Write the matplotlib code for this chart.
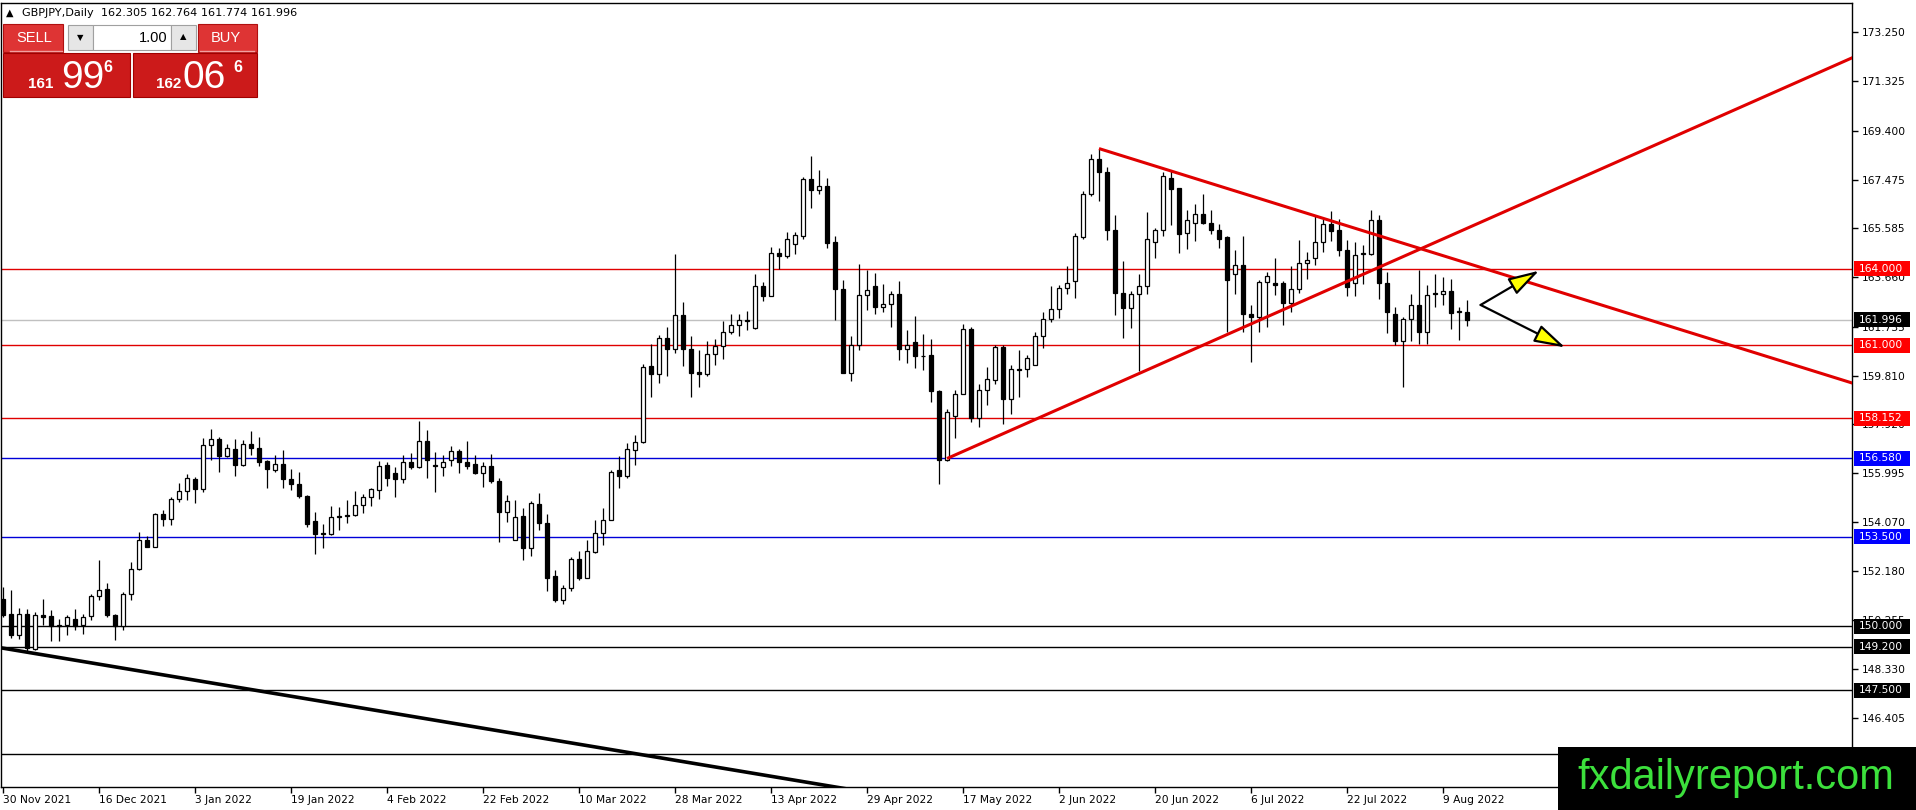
import numpy as np
import matplotlib
matplotlib.use("Agg")
import matplotlib.pyplot as plt
from matplotlib.patches import Rectangle
import matplotlib.transforms as mtransforms

W, H = 1916, 810

# ---------------- data (GBPJPY daily) ----------------
opens = [151.09,150.48,149.68,150.50,149.11,150.46,150.40,150.02,150.05,150.31,
         150.05,150.40,151.21,151.45,150.44,150.01,151.28,152.26,153.37,153.11,
         154.39,154.22,154.99,155.29,155.76,155.39,157.11,157.35,156.68,156.96,
         156.33,157.15,157.00,156.46,156.11,156.37,155.78,155.59,155.12,154.12,
         153.67,153.63,154.30,154.34,154.38,154.74,155.07,155.33,156.31,156.02,
         155.75,156.45,156.24,157.27,156.27,156.24,156.50,156.87,156.45,156.35,
         156.01,156.27,155.71,154.49,153.40,154.31,153.07,154.81,154.06,151.99,
         151.05,151.52,152.62,151.91,152.92,153.67,154.18,156.11,155.89,156.89,
         157.22,160.18,159.89,161.30,160.87,162.18,160.87,159.95,159.87,160.65,
         160.98,161.52,161.78,161.97,161.68,163.31,162.95,164.63,164.50,164.98,
         165.28,167.52,167.09,167.22,165.05,163.22,159.93,161.03,162.96,163.31,
         162.50,162.63,163.00,160.87,161.12,160.60,160.61,159.23,156.50,158.24,
         159.11,161.62,158.17,159.27,159.63,160.95,158.91,160.09,160.06,160.25,
         161.37,162.05,162.44,163.26,163.52,165.24,166.94,168.31,167.80,165.50,
         163.06,162.48,163.02,163.34,165.05,165.50,167.56,167.14,165.40,165.80,
         166.12,165.80,165.53,165.22,163.81,164.16,162.22,162.09,163.48,163.42,
         163.42,162.67,163.22,164.22,164.43,165.05,165.74,165.50,164.72,163.42,
         164.56,164.59,165.92,163.42,162.22,161.17,162.05,162.57,161.52,163.06,
         162.99,163.12,162.29,162.305]
highs = [151.55,151.42,150.74,150.70,150.55,151.09,150.66,150.31,150.46,150.70,
         150.50,151.28,152.59,151.70,150.50,151.35,152.52,153.69,153.53,154.44,
         154.55,155.07,155.62,155.98,155.85,157.39,157.74,157.42,157.15,157.35,
         157.28,157.65,157.42,156.50,156.70,156.89,156.18,156.05,155.13,154.48,
         154.00,154.70,154.68,154.94,155.30,155.20,155.42,156.46,156.44,156.24,
         156.70,156.79,158.03,157.68,156.83,156.70,157.08,156.96,157.25,156.70,
         156.44,156.74,155.79,155.13,154.94,154.65,154.90,155.22,154.41,152.20,
         151.61,152.72,152.95,153.37,154.15,154.65,156.11,156.66,157.18,157.48,
         160.28,161.07,161.42,161.72,164.59,162.70,161.35,160.83,161.16,161.26,
         161.94,162.24,162.22,162.33,163.81,163.48,164.85,164.82,165.44,165.44,
         167.59,168.40,167.88,167.56,165.28,163.57,161.35,164.20,163.96,163.83,
         163.39,163.13,163.52,161.59,162.14,161.43,161.26,159.24,158.49,159.27,
         161.82,161.72,159.48,160.15,161.00,161.00,160.22,160.81,160.61,161.52,
         162.30,163.31,163.35,164.09,165.40,167.04,168.50,168.70,167.98,166.09,
         164.29,163.13,163.78,166.22,165.59,167.78,167.81,167.17,166.28,166.52,
         166.91,166.31,165.76,165.27,164.72,165.27,162.57,163.55,163.87,164.43,
         163.52,164.09,165.14,164.65,166.05,165.96,166.26,165.96,165.11,165.05,
         164.94,166.31,166.09,163.87,162.50,162.11,163.02,163.94,163.35,163.81,
         163.68,163.61,162.50,162.764]
lows = [150.37,149.56,149.52,149.04,149.07,150.05,149.43,149.43,149.65,149.85,
        149.72,150.24,151.05,150.37,149.48,149.85,151.05,152.22,153.09,153.09,
        153.92,153.98,154.87,154.94,154.83,155.26,156.53,156.05,156.63,155.88,
        156.29,156.70,156.28,155.42,156.05,155.42,155.35,155.04,153.89,152.82,
        153.07,153.57,153.76,154.05,154.31,154.42,154.70,154.99,155.50,155.07,
        155.62,156.18,156.21,155.82,155.26,155.89,156.28,156.02,156.18,155.96,
        155.46,155.62,153.31,154.09,153.37,152.61,152.75,153.79,151.39,150.96,
        150.89,151.39,151.83,151.90,152.88,153.18,154.15,155.42,155.81,156.33,
        157.18,158.98,159.53,159.79,160.70,160.19,158.98,159.37,159.80,160.22,
        160.48,161.43,161.37,161.61,161.62,162.74,162.92,164.00,164.42,164.59,
        165.18,166.38,166.94,164.79,161.98,159.90,159.61,160.83,162.37,162.24,
        162.31,161.72,160.44,160.31,160.13,160.02,158.78,155.56,156.48,157.39,
        159.08,158.00,157.81,158.66,159.50,157.94,158.33,158.98,159.76,160.22,
        160.91,161.92,162.07,163.02,162.85,165.18,166.85,166.65,165.14,162.20,
        161.30,161.69,160.00,163.02,164.42,165.27,165.70,164.62,164.76,165.09,
        165.76,165.35,164.79,161.51,163.00,161.51,160.35,161.51,161.72,162.96,
        161.81,162.31,163.05,163.61,164.13,164.65,165.07,164.50,162.93,162.93,
        163.39,164.55,162.83,161.49,161.00,159.37,161.17,161.07,161.07,162.50,
        162.57,161.63,161.22,161.774]
closes = [150.44,149.68,150.50,149.17,150.46,150.37,150.01,150.05,150.37,150.01,
          150.37,151.21,151.44,150.45,150.01,151.28,152.26,153.37,153.11,154.39,
          154.21,155.00,155.29,155.79,155.39,157.11,157.34,156.67,157.00,156.33,
          157.15,157.00,156.44,156.16,156.37,155.77,155.59,155.11,154.01,153.61,
          153.63,154.30,154.34,154.38,154.77,155.07,155.37,156.29,155.82,155.75,
          156.44,156.24,157.27,156.53,156.31,156.44,156.87,156.44,156.29,156.01,
          156.27,155.69,154.48,154.89,154.29,153.07,154.83,154.05,151.91,151.02,
          151.52,152.62,151.91,152.94,153.67,154.18,156.05,155.89,156.96,157.23,
          160.15,159.89,161.30,160.87,162.20,160.87,159.93,159.87,160.65,160.98,
          161.52,161.78,162.01,162.01,163.31,162.95,164.63,164.50,165.15,165.31,
          167.52,167.09,167.22,165.01,163.22,159.92,161.03,162.96,163.18,162.50,
          162.63,163.02,160.87,161.03,160.60,160.57,159.22,156.50,158.41,159.11,
          161.62,158.17,159.27,159.70,160.95,158.91,160.06,160.05,160.52,161.37,
          162.05,162.44,163.26,163.42,165.27,166.94,168.31,167.78,165.50,163.05,
          162.48,163.02,163.31,165.15,165.50,167.62,167.12,165.37,165.92,166.12,
          165.79,165.53,165.18,163.57,164.16,162.24,162.09,163.48,163.70,163.38,
          162.66,163.22,164.22,164.33,165.05,165.76,165.48,164.75,163.29,164.55,
          164.60,165.92,163.42,162.31,161.17,162.05,162.57,161.52,162.96,163.02,
          163.12,162.27,162.33,161.996]

date_tick_labels = ["30 Nov 2021", "16 Dec 2021", "3 Jan 2022", "19 Jan 2022",
                    "4 Feb 2022", "22 Feb 2022", "10 Mar 2022", "28 Mar 2022",
                    "13 Apr 2022", "29 Apr 2022", "17 May 2022", "2 Jun 2022",
                    "20 Jun 2022", "6 Jul 2022", "22 Jul 2022", "9 Aug 2022"]
date_tick_bars = [0, 12, 24, 36, 48, 60, 72, 84, 96, 108, 120, 132, 144, 156, 168, 180]

price_ticks = [173.250, 171.325, 169.400, 167.475, 165.585, 163.660, 161.735,
               159.810, 157.920, 155.995, 154.070, 152.180, 150.255, 148.330, 146.405]

red_levels = [164.000, 161.000, 158.152]
blue_levels = [156.580, 153.500]
black_levels = [150.000, 149.200, 147.500, 145.000]
bid_price = 161.996

# trend lines: (bar, price) end points
down_trend = [(137.0, 168.70), (231.2, 159.52)]
up_trend = [(118.0, 156.57), (231.2, 172.26)]
black_trend = [(-0.4, 149.17), (108.0, 143.51)]
arrow_start = (184.7, 162.58)
arrow_up_end = (192.0, 163.92)
arrow_down_end = (195.25, 160.92)

header_text = "GBPJPY,Daily  162.305 162.764 161.774 161.996"

# ---------------- figure ----------------
fig = plt.figure(figsize=(W / 100, H / 100), dpi=100)
fig.patch.set_facecolor("white")

AX_L, AX_R, AX_T, AX_B = 1.0, 1852.0, 2.5, 787.0
ax = fig.add_axes([AX_L / W, (H - AX_B) / H, (AX_R - AX_L) / W, (AX_B - AX_T) / H])
ax.set_facecolor("white")

PX_PER_PRICE = 1 / 0.039133
ymax = 173.25 + (32.3 - AX_T) / PX_PER_PRICE
ymin = 173.25 - (AX_B - 32.3) / PX_PER_PRICE
ax.set_ylim(ymin, ymax)
ax.set_xlim((AX_L - 3) / 8.0, (AX_R - 3) / 8.0)

o = np.array(opens); h = np.array(highs); l = np.array(lows); c = np.array(closes)
x = np.arange(len(o))

RED_LINE = "#E00000"
BLUE_LINE = "#0000D8"

# horizontal levels
ax.axhline(bid_price, color="#C0C0C0", lw=1, zorder=1)
for p in red_levels:
    ax.axhline(p, color=RED_LINE, lw=1, zorder=1.5)
for p in blue_levels:
    ax.axhline(p, color=BLUE_LINE, lw=1, zorder=1.5)
for p in black_levels:
    ax.axhline(p, color="black", lw=1, zorder=1.5)

# candles
ax.vlines(x, l, h, color="black", lw=0.9, zorder=2)
bull = c >= o
bottoms = np.minimum(o, c)
heights = np.abs(c - o)
ax.bar(x, heights, bottom=bottoms, width=0.58,
       color=np.where(bull, "white", "black"), edgecolor="black", linewidth=0.9, zorder=2.5)

# trend lines
for seg, col, lw in [(down_trend, RED_LINE, 2.2), (up_trend, RED_LINE, 2.2), (black_trend, "black", 2.6)]:
    ax.plot([seg[0][0], seg[1][0]], [seg[0][1], seg[1][1]], color=col, lw=lw,
            solid_capstyle="butt", zorder=3)

# arrows
for end in (arrow_up_end, arrow_down_end):
    ax.annotate("", xy=end, xytext=arrow_start,
                arrowprops=dict(arrowstyle="-|>,head_length=0.95,head_width=0.28",
                                mutation_scale=20, fc="#FFFF00", ec="black", lw=1.6,
                                shrinkA=0, shrinkB=0), zorder=4)

# axes styling
for sp in ax.spines.values():
    sp.set_color("black")
    sp.set_linewidth(1)

FONT = "DejaVu Sans"
ax.yaxis.tick_right()
ax.set_yticks(price_ticks)
ax.set_yticklabels([f"{p:.3f}" for p in price_ticks], fontsize=7.7, family=FONT)
ax.tick_params(axis="y", direction="out", length=4, width=1, pad=3, colors="black")
ax.set_xticks(date_tick_bars)
ax.set_xticklabels(date_tick_labels, fontsize=7.7, family=FONT)
ax.tick_params(axis="x", direction="out", length=4, width=1, pad=2, colors="black")
for lab in ax.get_xticklabels():
    lab.set_horizontalalignment("left")

# colored price labels at the right
btf = mtransforms.blended_transform_factory(fig.transFigure, ax.transData)
box_h = 15 / PX_PER_PRICE
def price_label(p, bg):
    ax.add_patch(Rectangle((1854 / W, p - box_h / 2), 56 / W, box_h, transform=btf,
                           facecolor=bg, edgecolor="none", clip_on=False, zorder=20))
    ax.text(1859 / W, p, f"{p:.3f}", transform=btf, color="white", fontsize=7.7,
            family=FONT, ha="left", va="center", clip_on=False, zorder=21)

for p in red_levels:
    price_label(p, "#FF0000")
for p in blue_levels:
    price_label(p, "#0000FF")
for p in black_levels:
    price_label(p, "black")
price_label(bid_price, "black")

# ---------------- header & trade panel ----------------
def frect(x0, y0, x1, y1, **kw):
    r = Rectangle((x0 / W, 1 - y1 / H), (x1 - x0) / W, (y1 - y0) / H,
                  transform=fig.transFigure, **kw)
    fig.add_artist(r)
    return r

def ftext(xp, yp, s, **kw):
    return fig.text(xp / W, 1 - yp / H, s, **kw)

ftext(6, 13, "\u25B2", fontsize=7, family=FONT, ha="left", va="center", color="black")
ftext(22, 13, header_text, fontsize=8.1, family=FONT, ha="left", va="center", color="black")

BTN = "#DE3434"
PANEL = "#CC1A1A"
frect(3, 24, 63, 52, facecolor=BTN, edgecolor="#B01010", lw=0.8, zorder=5)
frect(198, 24, 257, 52, facecolor=BTN, edgecolor="#B01010", lw=0.8, zorder=5)
frect(68, 25, 93, 50, facecolor="#E6E6E6", edgecolor="#A0A0A0", lw=0.8, zorder=5)
frect(93, 25, 171, 50, facecolor="white", edgecolor="#A0A0A0", lw=0.8, zorder=5)
frect(171, 25, 196, 50, facecolor="#E6E6E6", edgecolor="#A0A0A0", lw=0.8, zorder=5)
frect(3, 53, 130, 97, facecolor=PANEL, edgecolor="#A00000", lw=0.8, zorder=5)
frect(133, 53, 257, 97, facecolor=PANEL, edgecolor="#A00000", lw=0.8, zorder=5)
for x0, x1 in [(10, 62), (200, 254)]:
    fig.add_artist(plt.Line2D([x0 / W, x1 / W], [1 - 51 / H, 1 - 51 / H],
                              transform=fig.transFigure, color="#F2A0A0", lw=1, zorder=6))

ftext(34, 38.5, "SELL", fontsize=10.5, family="Liberation Sans", color="white",
      ha="center", va="center", zorder=7)
ftext(226, 38.5, "BUY", fontsize=10.5, family="Liberation Sans", color="white",
      ha="center", va="center", zorder=7)
ftext(80.5, 38, "\u25BC", fontsize=6, family=FONT, color="black", ha="center", va="center", zorder=7)
ftext(183.5, 37, "\u25B2", fontsize=6, family=FONT, color="black", ha="center", va="center", zorder=7)
ftext(167, 38, "1.00", fontsize=10.5, family="Liberation Sans", color="black",
      ha="right", va="center", zorder=7)

for (xs, xb, xsup, small, big) in [(28, 61, 103, "161", "99"), (156, 183, 233, "162", "06")]:
    ftext(xs, 88, small, fontsize=11, fontweight="bold", family="Liberation Sans",
          color="white", ha="left", va="baseline", zorder=7)
    ftext(xb, 88, big, fontsize=28, family="Liberation Sans",
          color="white", ha="left", va="baseline", zorder=7)
    ftext(xsup, 72, "6", fontsize=11.5, fontweight="bold", family="Liberation Sans",
          color="white", ha="left", va="baseline", zorder=7)

# ---------------- watermark ----------------
frect(1558, 747, 1916, 810, facecolor="black", edgecolor="none", zorder=30)
ftext(1736, 789, "fxdailyreport.com", fontsize=30, family="Liberation Sans",
      color="#3CE03C", ha="center", va="baseline", zorder=31)

fig.savefig("out.png", dpi=100, facecolor="white")
